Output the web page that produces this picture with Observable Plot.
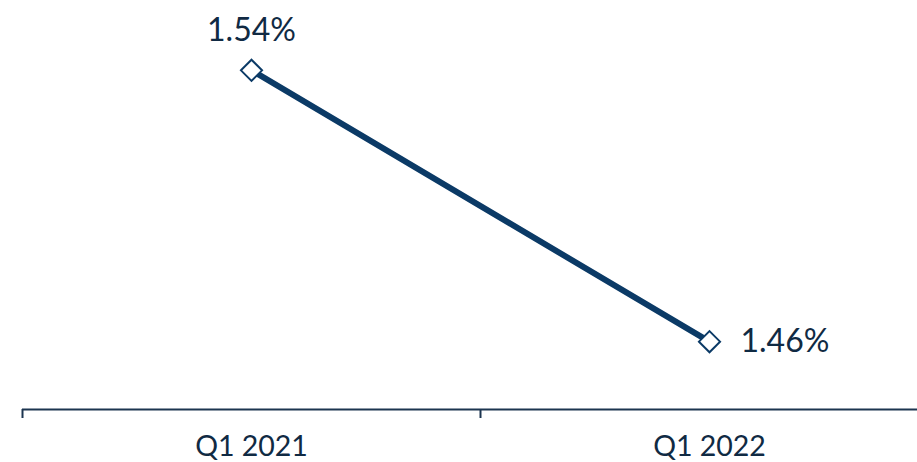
<!DOCTYPE html>
<html><head><meta charset="utf-8">
<script src="https://cdn.jsdelivr.net/npm/d3@7"></script>
<script src="https://cdn.jsdelivr.net/npm/@observablehq/plot@0.6"></script>
<style>body{margin:0;background:#fff;} svg{font-family:Lato, "Open Sans", sans-serif;}</style>
</head><body><div id="chart"></div>
<script>
const categories = ["Q1 2021", "Q1 2022"];
const values = [1.54, 1.46];
const valueLabels = ["1.54%", "1.46%"];

const data = categories.map((c, i) => ({cat: c, pos: i + 0.5, value: values[i], label: valueLabels[i]}));
const navy = "#0b3a66";
const textColor = "#102a43";

const chart = Plot.plot({
  width: 917,
  height: 462,
  marginLeft: 22,
  marginRight: -21,
  marginTop: 2,
  marginBottom: 53,
  x: {domain: [0, 2], axis: null},
  y: {domain: [1.44, 1.56], axis: null},
  marks: [
    Plot.ruleY([1.44], {stroke: "#1c3550", strokeWidth: 2}),
    Plot.axisX({ticks: [0, 1, 2], tickSize: 9, tickFormat: () => "", stroke: "#1c3550", strokeWidth: 2, tickPadding: 0, label: null}),
    Plot.axisX({ticks: data.map(d => d.pos), tickSize: 0, tickFormat: (d, i) => categories[i], fontSize: 28.5, fill: textColor, tickPadding: 26, label: null}),
    Plot.line(data, {x: "pos", y: "value", stroke: navy, strokeWidth: 6}),
    Plot.dot(data, {x: "pos", y: "value", symbol: "diamond2", r: 9.5, fill: "white", stroke: navy, strokeWidth: 2}),
    Plot.text([data[0]], {x: "pos", y: "value", text: "label", dy: -29, lineAnchor: "bottom", fontSize: 32, fill: textColor}),
    Plot.text([data[1]], {x: "pos", y: "value", text: "label", dx: 31, textAnchor: "start", fontSize: 32, fill: textColor})
  ]
});
document.getElementById("chart").appendChild(chart);
</script>
</body></html>
